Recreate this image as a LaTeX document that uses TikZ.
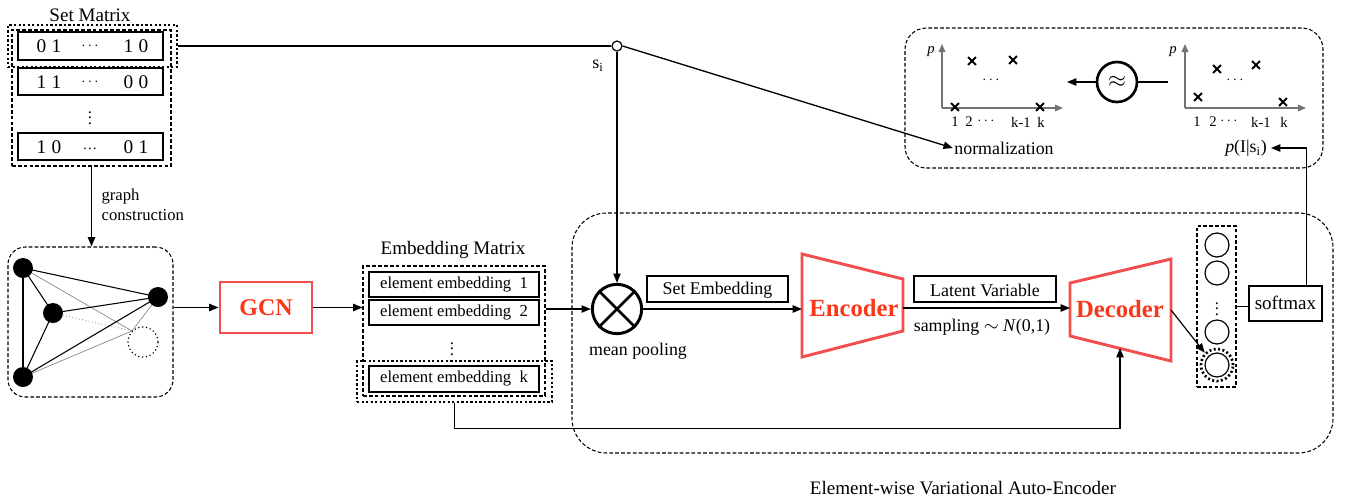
\documentclass[tikz,border=0pt]{standalone}
\usepackage{fontspec}
\setmainfont{Liberation Serif}
\usetikzlibrary{arrows.meta,fit,calc,shapes.misc}
\definecolor{redb}{RGB}{242,78,78}
\definecolor{redt}{RGB}{250,55,25}
\definecolor{axg}{RGB}{115,115,115}
\definecolor{edg}{RGB}{130,130,130}
\newcommand\fsA{\fontsize{14.3}{17}\selectfont}
\newcommand\fsB{\fontsize{13.4}{16}\selectfont}
\newcommand\fsC{\fontsize{12.5}{15}\selectfont}
\newcommand\fsD{\fontsize{11}{13}\selectfont}
\newcommand\fsE{\fontsize{18.5}{22}\selectfont\bfseries}
\newcommand\fsG{\fontsize{18}{22}\selectfont\bfseries}
\newcommand\fsN{\fontsize{14.5}{17}\selectfont}
\newcommand\fsV{\fontsize{12.5}{13}\selectfont}
\tikzset{
  dbox/.style={draw, dash pattern=on 2.8pt off 1.6pt, line width=0.8pt, inner sep=0pt},
  tdot/.style={draw, line width=2.2pt, dash pattern=on 1.7pt off 1.7pt, inner sep=0pt},
  sbox/.style={draw, line width=1pt, inner sep=0pt},
  arr/.style={-{Triangle[length=7pt,width=5.5pt]}, line width=1pt},
  garr/.style={-{Triangle[length=6pt,width=5pt]}, line width=1pt, draw=axg},
  redbox/.style={draw=redb, line width=2.2pt, inner sep=0pt, text=redt, font=\fsG},
  redtrap/.style={draw=redb, line width=2.2pt, line join=miter},
  blk/.style={line width=0.8pt},
  gry/.style={line width=0.5pt, draw=edg},
  pc/.style={cross out, draw, minimum size=4.5pt, inner sep=0pt, line width=1.4pt},
  ocirc/.style={circle, draw, line width=0.9pt, minimum size=18pt, inner sep=0pt},
  lab/.style={inner sep=1pt},
  vlab/.style={inner sep=0pt, font=\fsV}
}
\begin{document}
\begin{tikzpicture}[x=0.75pt,y=-0.75pt]
\useasboundingbox (0,0) rectangle (1347,501);

% ---------- Set Matrix ----------
\node[lab, font=\fsA] (smlab) at (90,15) {Set Matrix};
\node[dbox, fit={(12,30)(171,166)}] (smat) {};
\node[tdot, fit={(8,25)(177,67)}] (smhl) {};
\node[sbox, fit={(18,32)(163,60)}] (r1) {};
\node[sbox, fit={(18,68)(163,95)}] (r2) {};
\node[sbox, fit={(18,133)(163,160)}] (r3) {};
\node[lab, font=\fsN] (r1a) at (49,46) {0\hspace{4pt}1};
\node[lab, font=\fsD] (r1b) at (90,46) {$\cdots$};
\node[lab, font=\fsN] (r1c) at (136,46) {1\hspace{4pt}0};
\node[lab, font=\fsN] (r2a) at (49,82) {1\hspace{4pt}1};
\node[lab, font=\fsD] (r2b) at (90,82) {$\cdots$};
\node[lab, font=\fsN] (r2c) at (136,82) {0\hspace{4pt}0};
\node[vlab] (rvd) at (90,114) {$\vdots$};
\node[lab, font=\fsN] (r3a) at (49,147) {1\hspace{4pt}0};
\node[lab, font=\fsD] (r3b) at (90,149) {\dots};
\node[lab, font=\fsN] (r3c) at (136,147) {0\hspace{4pt}1};

\node[lab, font=\fsC, anchor=west, align=left] (gclab) at (100,205) {graph\\construction};

% ---------- Graph ----------
\node[dbox, rounded corners=13pt, fit={(8,247)(173,397)}] (gbox) {};
\node[circle, draw, dotted, line width=0.9pt, minimum size=22.5pt, inner sep=0pt] (gE) at (143,342) {};
\coordinate (gA) at (23,268);
\coordinate (gB) at (53,313);
\coordinate (gC) at (158,297);
\coordinate (gD) at (23,377);
\draw[gry] (gA) -- (gE.north west);
\draw[gry, dotted, line width=0.7pt] (gB) -- (gE.north west);
\draw[gry] (gD) -- (gE.north west);
\draw[gry] (gC) -- (gE.north west);
\draw[blk] (gA) -- (gD);
\draw[blk] (gA) -- (gB);
\draw[blk] (gA) -- (gC);
\draw[blk] (gB) -- (gC);
\draw[blk] (gB) -- (gD);
\draw[blk] (gD) -- (gC);
\fill (gA) circle[radius=7.5pt] (gB) circle[radius=7.5pt] (gC) circle[radius=7.5pt] (gD) circle[radius=7.5pt];

% ---------- GCN ----------
\node[redbox, fit={(220,282)(312,333)}] (gcn) {};
\node[text=redt, font=\fsG] (gcnt) at (266,308) {GCN};

% ---------- Embedding Matrix ----------
\node[lab, font=\fsA] (emlab) at (453,250) {Embedding Matrix};
\node[dbox, fit={(363,266)(545,396)}] (emb) {};
\node[tdot, fit={(357,361)(552,402)}] (ekhl) {};
\node[sbox, fit={(369,272)(539,297)}] (e1) {};
\node[sbox, fit={(369,300)(539,325)}] (e2) {};
\node[sbox, fit={(369,366)(539,392)}] (ek) {};
\node[lab, font=\fsC] (e1t) at (454,285) {element embedding~ 1};
\node[lab, font=\fsC] (e2t) at (454,313) {element embedding~ 2};
\node[vlab] (evd) at (452,345) {$\vdots$};
\node[lab, font=\fsC] (ekt) at (454,379) {element embedding~ k};

% ---------- VAE frame ----------
\node[dbox, rounded corners=26pt, fit={(572,213)(1333,453)}] (vae) {};
\node[lab, font=\fsA] (vaelab) at (963,488) {Element-wise Variational Auto-Encoder};

% ---------- s_i ----------
\node[circle, draw, line width=0.9pt, minimum size=7.5pt, inner sep=0pt, fill=white] (si) at (617,46) {};
\node[lab, font=\fsB] (silab) at (598,66) {s\textsubscript{i}};

% ---------- mean pooling ----------
\node[circle, draw, line width=2.2pt, minimum size=37pt, inner sep=0pt] (mp) at (617,309) {};
\draw[line width=2pt] (mp.45) -- (mp.225) (mp.135) -- (mp.315);
\node[lab, font=\fsB] (mplab) at (638,351) {mean pooling};
\node[sbox, fit={(647,276)(788,302)}] (seb) {};
\node[lab, font=\fsB] (sebt) at (717.5,290) {Set Embedding};

% ---------- Encoder ----------
\draw[redtrap] (802,254) -- (903,279) -- (903,331) -- (802,357) -- cycle;
\node[text=redt, font=\fsE] (enc) at (854,308) {Encoder};
\coordinate (encL) at (802,309);
\coordinate (encR) at (903,308);

\node[sbox, fit={(914,276)(1056,302)}] (lv) {};
\node[lab, font=\fsB] (lvt) at (985,290) {Latent Variable};
\node[lab, font=\fsB] (samp) at (982,327) {sampling $\sim$ \textit{N}(0,1)};

% ---------- Decoder ----------
\draw[redtrap] (1070,283) -- (1171,259) -- (1171,361) -- (1070,336) -- cycle;
\node[text=redt, font=\fsE] (dec) at (1120,309) {Decoder};
\coordinate (decL) at (1070,308);
\coordinate (decR) at (1171,310);
\coordinate (decB) at (1120,348);

% ---------- output layer ----------
\node[dbox, fit={(1197,226)(1236,387)}] (outl) {};
\node[ocirc] (o1) at (1217,245) {};
\node[ocirc] (o2) at (1217,273) {};
\node[vlab] (ovd) at (1217,305) {$\vdots$};
\node[ocirc] (o4) at (1217,332) {};
\node[ocirc] (o5) at (1217,365) {};
\node[circle, draw, line width=2pt, dash pattern=on 1.5pt off 1.8pt, minimum size=24pt, inner sep=0pt] (o5r) at (1217,365) {};

\node[draw, line width=2.2pt, inner sep=0pt, fit={(1249,286)(1322,321)}] (smx) {};
\node[lab, font=\fsA] (smxt) at (1285.5,303) {softmax};

% ---------- top right panel ----------
\node[dbox, rounded corners=16pt, fit={(905,28)(1323,168)}] (tr) {};
% left plot
\coordinate (lo) at (942,108);
\coordinate (ly) at (942,44);
\coordinate (lx) at (1063,108);
\draw[garr] (lo) -- (ly);
\draw[garr] (lo) -- (lx);
\node[lab, font=\fsD\itshape] (lp) at (931,52) {p};
\node[pc] (lc1) at (955,107) {};
\node[pc] (lc2) at (1040,107) {};
\node[pc] (lc3) at (972,61) {};
\node[pc] (lc4) at (1013,60) {};
\node[lab, font=\fsD] (ldt) at (991,80) {$\cdots$};
\node[lab, font=\fsD] (lt1) at (955,122) {1};
\node[lab, font=\fsD] (lt2) at (969,122) {2};
\node[lab, font=\fsD] (lt3) at (986,121) {$\cdots$};
\node[lab, font=\fsD] (lt4) at (1021,122) {k-1};
\node[lab, font=\fsD] (lt5) at (1041,122) {k};
\node[lab, font=\fsB] (norm) at (1004,148) {normalization};
% approx
\node[circle, draw, line width=2pt, minimum size=30pt, inner sep=0pt, font=\fontsize{17}{20}\selectfont] (ap) at (1117,82) {$\approx$};
\coordinate (apR) at (1168,82);
\coordinate (apL) at (1067,82);
\draw[line width=1pt] (apR) -- (ap.east);
\draw[arr] (ap.west) -- (apL);
% right plot
\coordinate (ro) at (1185,108);
\coordinate (ry) at (1185,44);
\coordinate (rx) at (1306,108);
\draw[garr] (ro) -- (ry);
\draw[garr] (ro) -- (rx);
\node[lab, font=\fsD\itshape] (rp) at (1173,52) {p};
\node[pc] (rc1) at (1198,97) {};
\node[pc] (rc2) at (1217,69) {};
\node[pc] (rc3) at (1256,65) {};
\node[pc] (rc4) at (1283,102) {};
\node[lab, font=\fsD] (rdt) at (1235,80) {$\cdots$};
\node[lab, font=\fsD] (rt1) at (1197,122) {1};
\node[lab, font=\fsD] (rt2) at (1213,122) {2};
\node[lab, font=\fsD] (rt3) at (1229,121) {$\cdots$};
\node[lab, font=\fsD] (rt4) at (1261,122) {k-1};
\node[lab, font=\fsD] (rt5) at (1284,122) {k};
\node[lab, font=\fsB, inner sep=3pt] (pis) at (1246,148) {\textit{p}(I|s\textsubscript{i})};

% ---------- connectors ----------
\draw[line width=1pt] (smhl.east) -- (si.west);
\draw[arr] (si.south) -- (mp.north);
\draw[arr] (si.east) -- (norm.west);
\draw[arr] (smat.south) -- (smat.south |- gbox.north);
\draw[arr] (gcn.west -| gbox.east) -- (gcn.west);
\draw[arr] (gcn.east) -- (gcn.east -| emb.west);
\draw[arr] (mp.west -| emb.east) -- (mp.west);
\draw[arr] (mp.east) -- (encL);
\draw[arr] (encR) -- (decL);
\draw[arr] (ekhl.south) -- ++(0,25) -| (decB);
\draw[arr, line width=0.9pt] (decR) -- (o5r.north west);
\draw[line width=1pt] (outl.east) -- (outl.east -| smx.west);
\draw[arr] ([xshift=-12.75pt]smx.north east) |- (pis.east);
\end{tikzpicture}
\end{document}
